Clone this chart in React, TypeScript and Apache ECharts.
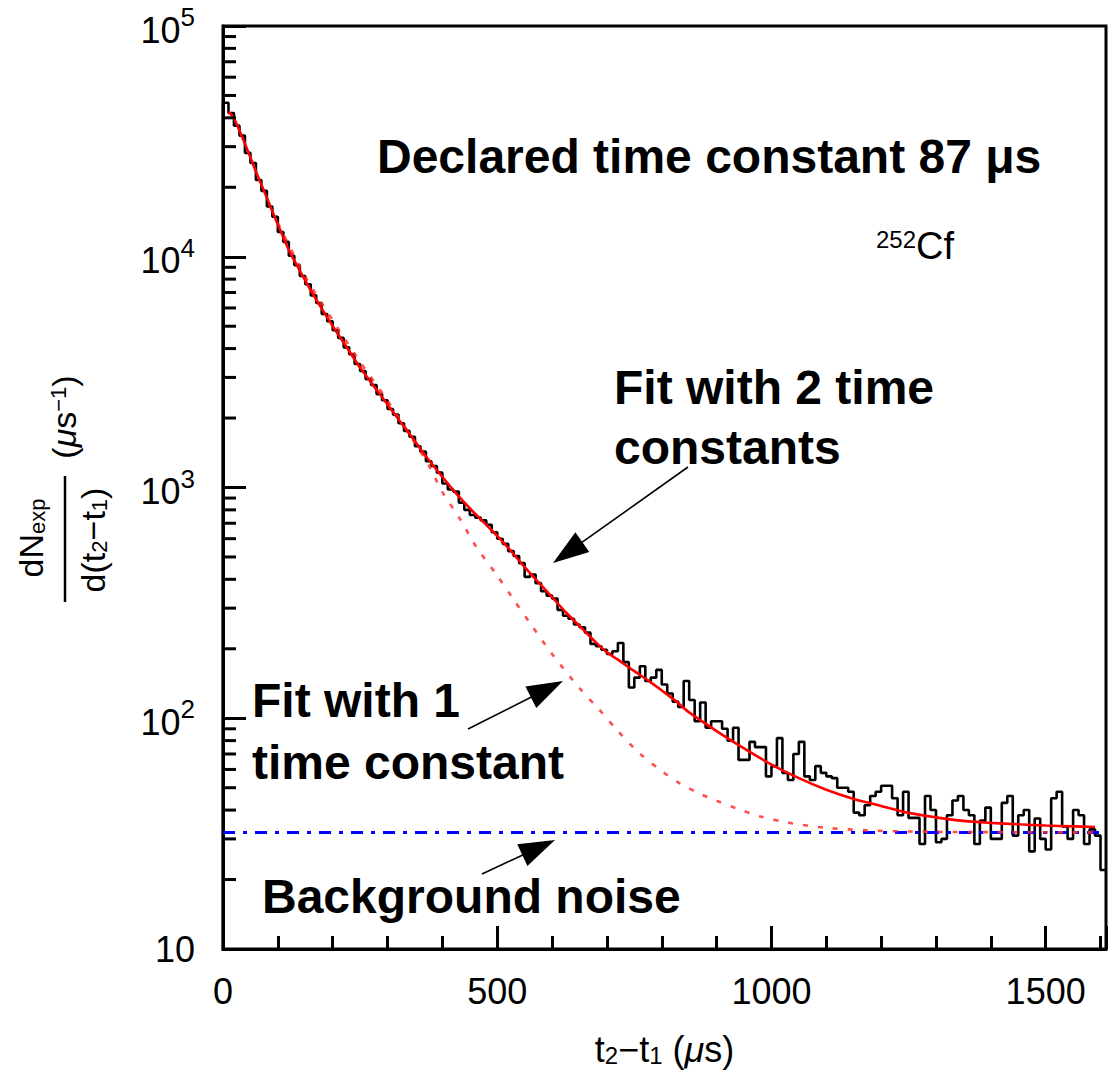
import React, { useEffect, useRef } from 'react';
import * as echarts from 'echarts';

// ---------------- data ----------------
const binWidth = 10; // µs
const histCounts = [
  46500, 42000, 37000, 33500, 28200, 25500, 21500, 19300, 16500, 14900,
  12800, 11600, 10100, 9200, 8250, 7600, 6800, 6300, 5650, 5250,
  4800, 4450, 4050, 3780, 3430, 3200, 2950, 2780, 2540, 2390,
  2190, 2070, 1900, 1760, 1660, 1510, 1430, 1300, 1240, 1160,
  1040, 980, 960, 860, 800, 760, 740, 720, 690, 640,
  600, 570, 530, 505, 470, 410, 420, 385, 355, 340,
  330, 295, 278, 270, 255, 248, 235, 210, 205, 198,
  190, 195, 212, 175, 136, 150, 168, 145, 150, 162,
  140, 128, 118, 112, 145, 120, 97, 117, 91, 97,
  97, 90, 80, 91, 66, 66, 79, 75, 75, 56,
  62, 82, 58, 54, 70, 79, 56, 54, 62, 58,
  56, 55, 50, 50, 48, 39, 38, 42, 46, 48,
  51, 51, 45, 38, 48, 37, 37, 28.5, 46, 40,
  29, 30, 38, 44, 46, 40, 38, 28.5, 36, 41,
  30, 30, 43, 46, 31, 38, 40, 26.5, 36.8, 30,
  27, 45, 48, 34, 30, 40, 38, 28.5, 33, 31,
  22,
];

const fit2X = [10, 20, 40, 60, 80, 100, 120, 140, 160, 180, 200, 225, 250, 275, 300, 325, 350, 375, 400, 425, 450, 475, 500, 525, 550, 575, 600, 625, 650, 675, 700, 725, 750, 775, 800, 825, 850, 900, 950, 1000, 1050, 1100, 1150, 1200, 1250, 1300, 1350, 1400, 1450, 1500, 1550, 1590];
const fit2Y = [42700, 39800, 30900, 23400, 18000, 13800, 10700, 8710, 7160, 5960, 5010, 4070, 3310, 2750, 2290, 1905, 1585, 1318, 1112, 944, 813, 708, 617, 531, 452, 389, 335, 288, 251, 219, 193, 176, 160, 146, 132, 119, 106, 88, 74, 63, 55, 49, 44.7, 41.7, 38.9, 37.2, 35.9, 35.2, 34.7, 34.3, 34.0, 33.8];

const fit1X = [100, 150, 200, 250, 300, 350, 375, 400, 431, 462, 499, 528, 560, 600, 650, 686, 720, 759, 800, 832, 870, 899, 935, 980, 1030, 1100, 1200, 1300, 1400, 1590];
const fit1Y = [14000, 8200, 5300, 3500, 2380, 1560, 1250, 955, 738, 552, 418, 332, 258, 190, 135, 109, 88, 70.6, 59, 52.4, 47, 44, 40.8, 37.5, 35.3, 33.5, 32.5, 32.2, 32.1, 32.0];

const backgroundLevel = 32;
const backgroundX = [0, 1600];

const xMin = 0;
const xMax = 1610;
const yMin = 10;
const yMax = 100000;
const yMinorTicks = [
  20, 30, 40, 50, 60, 70, 80, 90,
  200, 300, 400, 500, 600, 700, 800, 900,
  2000, 3000, 4000, 5000, 6000, 7000, 8000, 9000,
  20000, 30000, 40000, 50000, 60000, 70000, 80000, 90000,
];

// ---------------- helpers ----------------
const FONT = '"Liberation Sans", Arial, Helvetica, sans-serif';

function histogramSteps(counts: number[], width: number): number[][] {
  const pts: number[][] = [[0, yMin]];
  counts.forEach((c, i) => {
    pts.push([i * width, c]);
    pts.push([(i + 1) * width, c]);
  });
  return pts;
}

function zip(xs: number[], ys: number[]): number[][] {
  return xs.map((x, i) => [x, ys[i]]);
}

function arrow(x1: number, y1: number, x2: number, y2: number, headLen = 36, headHalf = 12) {
  const dx = x2 - x1;
  const dy = y2 - y1;
  const L = Math.hypot(dx, dy);
  const ux = dx / L;
  const uy = dy / L;
  const bx = x2 - ux * headLen;
  const by = y2 - uy * headLen;
  const px = -uy;
  const py = ux;
  return [
    { type: 'line', silent: true, shape: { x1, y1, x2: bx + ux * 4, y2: by + uy * 4 }, style: { stroke: '#000', lineWidth: 1.6 } },
    {
      type: 'polygon', silent: true,
      shape: { points: [[x2, y2], [bx + px * headHalf, by + py * headHalf], [bx - px * headHalf, by - py * headHalf]] },
      style: { fill: '#000' },
    },
  ];
}

function boldText(text: string, x: number, y: number, size = 48) {
  return {
    type: 'text', x, y, silent: true,
    style: { text, fill: '#000', fontSize: size, fontWeight: 'bold', fontFamily: FONT, align: 'left', verticalAlign: 'middle' },
  };
}

export default function App() {
  const ref = useRef<HTMLDivElement>(null);

  useEffect(() => {
    document.body.style.margin = '0';
    if (!ref.current) return;
    const chart = echarts.init(ref.current, null, { renderer: 'svg' });

    const option: any = {
      animation: false,
      backgroundColor: '#ffffff',
      grid: { left: 223, top: 26, width: 884, height: 923, show: true, borderColor: '#000', borderWidth: 3, backgroundColor: 'transparent', containLabel: false },
      xAxis: [
        {
          type: 'value', min: xMin, max: xMax, interval: 100, position: 'bottom',
          axisLine: { show: true, onZero: false, lineStyle: { color: '#000', width: 3 } },
          axisTick: { show: true, inside: true, length: 13, lineStyle: { color: '#000', width: 3 } },
          axisLabel: { show: false },
          splitLine: { show: false },
        },
        {
          type: 'value', min: xMin, max: xMax, interval: 500, position: 'bottom',
          axisLine: { show: false, onZero: false },
          axisTick: { show: true, inside: true, length: 23, lineStyle: { color: '#000', width: 3 } },
          axisLabel: {
            show: true, margin: 24, color: '#000', fontSize: 36, fontFamily: FONT,
            formatter: (v: number) => (v % 500 === 0 ? String(v) : ''),
          },
          splitLine: { show: false },
          name: '{n|t}{s|2}{n|\u2212t}{s|1}{n| (}{i|\u03bc}{n|s)}',
          nameLocation: 'middle',
          nameGap: 82,
          nameTextStyle: {
            color: '#000',
            rich: {
              n: { fontSize: 36, fontFamily: FONT, color: '#000' },
              i: { fontSize: 36, fontFamily: FONT, fontStyle: 'italic', color: '#000' },
              s: { fontSize: 24, fontFamily: FONT, color: '#000', verticalAlign: 'bottom' },
            },
          },
        },
      ],
      yAxis: {
        type: 'log', logBase: 10, min: yMin, max: yMax,
        axisLine: { show: true, onZero: false, lineStyle: { color: '#000', width: 3 } },
        axisTick: { show: true, inside: true, length: 23, lineStyle: { color: '#000', width: 3 } },
        splitLine: { show: false },
        axisLabel: {
          margin: 28, color: '#000',
          formatter: (v: number) => {
            const e = Math.round(Math.log10(v));
            return e === 1 ? '{p|10}' : `{b|10}{s|${e}}`;
          },
          rich: {
            p: { fontSize: 36, fontFamily: FONT, color: '#000' },
            b: { fontSize: 36, fontFamily: FONT, color: '#000', padding: [8, 0, 0, 0] },
            s: { fontSize: 26, fontFamily: FONT, color: '#000', verticalAlign: 'top' },
          },
        },
      },
      series: [
        {
          name: 'Data', type: 'line', step: false, data: histogramSteps(histCounts, binWidth),
          showSymbol: false, symbol: 'none', lineStyle: { color: '#000', width: 2.6 }, z: 2,
        },
        {
          name: 'Background noise', type: 'line', data: backgroundX.map((x) => [x, backgroundLevel]),
          showSymbol: false, symbol: 'none',
          lineStyle: { color: '#0000ff', width: 3, type: [12, 8, 4, 8] }, z: 3,
        },
        {
          name: 'Fit with 1 time constant', type: 'line', data: zip(fit1X, fit1Y), smooth: 0.3,
          showSymbol: false, symbol: 'none',
          lineStyle: { color: '#ff3030', width: 2.6, type: [5, 10], opacity: 0.85 }, z: 4,
        },
        {
          name: 'Fit with 2 time constants', type: 'line', data: zip(fit2X, fit2Y), smooth: 0.3,
          showSymbol: false, symbol: 'none',
          lineStyle: { color: '#ff0000', width: 2.6 }, z: 5,
        },
        {
          name: 'minorTicks', type: 'custom', coordinateSystem: 'cartesian2d', silent: true, clip: false, z: 10,
          data: yMinorTicks.map((v) => [xMin, v]),
          renderItem: (params: any, api: any) => {
            const p = api.coord([api.value(0), api.value(1)]);
            return {
              type: 'line',
              shape: { x1: p[0], y1: p[1], x2: p[0] + 13, y2: p[1] },
              style: { stroke: '#000', lineWidth: 3 },
            };
          },
        },
      ],
      graphic: [
        boldText('Declared time constant 87 \u03bcs', 377, 156),
        {
          type: 'text', x: 876, y: 246, silent: true,
          style: {
            text: '{s|252}{n|Cf}', align: 'left', verticalAlign: 'middle',
            rich: {
              s: { fontSize: 24, fontFamily: FONT, fill: '#000', verticalAlign: 'top' },
              n: { fontSize: 38, fontFamily: FONT, fill: '#000' },
            },
          },
        },
        boldText('Fit with 2 time', 614, 387),
        boldText('constants', 614, 447),
        boldText('Fit with 1', 252, 700),
        boldText('time constant', 252, 762),
        boldText('Background noise', 262, 896),
        ...arrow(688, 467, 553, 563),
        ...arrow(468, 729, 563, 681),
        ...arrow(482, 874, 555, 840),
        // y-axis title (rotated)
        {
          type: 'text', x: 31, y: 538, rotation: Math.PI / 2, silent: true,
          style: {
            text: '{a|dN}{b|exp}', align: 'center', verticalAlign: 'middle',
            rich: {
              a: { fontSize: 34, fontFamily: FONT, fill: '#000' },
              b: { fontSize: 22, fontFamily: FONT, fill: '#000', verticalAlign: 'bottom' },
            },
          },
        },
        { type: 'line', silent: true, shape: { x1: 65, y1: 476, x2: 65, y2: 602 }, style: { stroke: '#000', lineWidth: 2.5 } },
        {
          type: 'text', x: 93, y: 540, rotation: Math.PI / 2, silent: true,
          style: {
            text: '{a|d(t}{b|2}{a|\u2212t}{b|1}{a|)}', align: 'center', verticalAlign: 'middle',
            rich: {
              a: { fontSize: 34, fontFamily: FONT, fill: '#000' },
              b: { fontSize: 22, fontFamily: FONT, fill: '#000', verticalAlign: 'bottom' },
            },
          },
        },
        {
          type: 'text', x: 64, y: 417, rotation: Math.PI / 2, silent: true,
          style: {
            text: '{a|(}{i|\u03bc}{a|s}{b|\u22121}{a|)}', align: 'center', verticalAlign: 'middle',
            rich: {
              a: { fontSize: 34, fontFamily: FONT, fill: '#000' },
              i: { fontSize: 34, fontFamily: FONT, fontStyle: 'italic', fill: '#000' },
              b: { fontSize: 22, fontFamily: FONT, fill: '#000', verticalAlign: 'top' },
            },
          },
        },
      ],
    };

    chart.setOption(option);
    return () => chart.dispose();
  }, []);

  return <div ref={ref} style={{ position: 'absolute', left: 0, top: 0, width: 1109, height: 1072 }} />;
}
